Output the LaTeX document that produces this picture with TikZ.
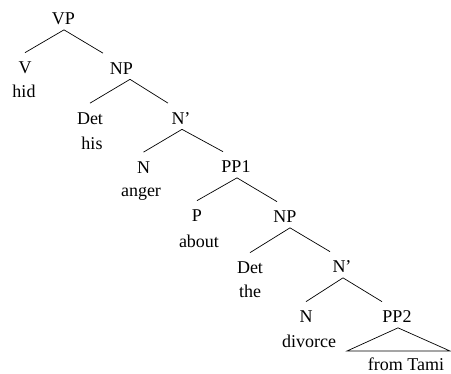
\documentclass[tikz,border=0pt]{standalone}
\usepackage{fontspec}
\setmainfont{Liberation Serif}
\usepackage{tikz}

\begin{document}
\begin{tikzpicture}[x=1pt,y=-1pt,line width=0.7pt,
                    cat/.style={inner sep=0pt,anchor=base,text height=21pt,text depth=4.5pt,
                                font=\fontsize{18}{21}\selectfont},
                    word/.style={inner sep=0pt,anchor=base,font=\fontsize{18}{21}\selectfont}]
  \useasboundingbox (0,0) rectangle (451,374);

  \node[cat] (vp) at (63.5,25) {VP};
  \node[cat] (v) at (25,74) {V};
  \node[word] (hid) at (24,98) {hid};
  \node[cat] (np1) at (121.5,74.5) {NP};
  \node[cat] (det1) at (90,124.5) {Det};
  \node[word] (his) at (92,150) {his};
  \node[cat] (nbar1) at (181,124.5) {N'};
  \node[cat] (n1) at (143.5,173.5) {N};
  \node[word] (anger) at (141,197) {anger};
  \node[cat] (pp1) at (236,173) {PP1};
  \node[cat] (p) at (197,222) {P};
  \node[word] (about) at (199,248) {about};
  \node[cat] (np2) at (285,223) {NP};
  \node[cat] (det2) at (250,274) {Det};
  \node[word] (the) at (250,298) {the};
  \node[cat] (nbar2) at (342,273) {N'};
  \node[cat] (n2) at (306,323) {N};
  \node[word] (divorce) at (309,348) {divorce};
  \node[cat] (pp2) at (397,323) {PP2};
  \node[word] (tami) at (406,370.5) {from Tami};

  \coordinate (tl) at (347,351);
  \coordinate (tr) at (450,351);

  \path[draw]
    ([xshift=0.5pt]vp.south) edge (v.north)
              edge ([xshift=-18.5pt]np1.north)
    ([xshift=8.5pt]np1.south) edge (det1.north)
              edge ([xshift=-13pt]nbar1.north)
    ([xshift=1pt]nbar1.south) edge (n1.north)
              edge ([xshift=-13pt]pp1.north)
    ([xshift=1pt]pp1.south) edge (p.north)
              edge ([xshift=-8pt]np2.north)
    ([xshift=5pt]np2.south) edge (det2.north)
              edge ([xshift=-12pt]nbar2.north)
    ([xshift=1pt]nbar2.south) edge (n2.north)
              edge ([xshift=-15pt]pp2.north);

  \draw ([xshift=1pt]pp2.south) -- (tl) -- (tr) -- cycle;
\end{tikzpicture}
\end{document}
